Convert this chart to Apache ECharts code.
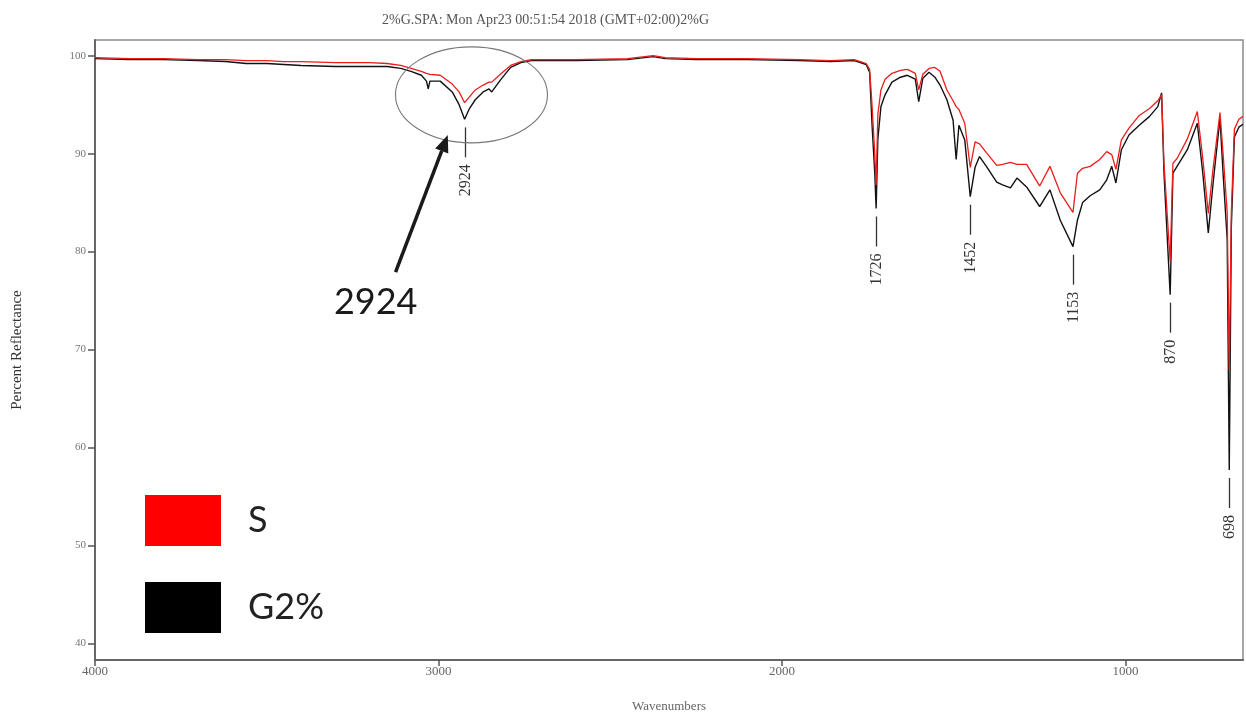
<!DOCTYPE html>
<html>
<head>
<meta charset="utf-8">
<script src="https://cdn.jsdelivr.net/npm/echarts@6/dist/echarts.min.js"></script>
<style>
  html, body { margin: 0; padding: 0; background: #ffffff; }
  #chart { width: 1246px; height: 715px; }
</style>
</head>
<body>
<div id="chart"></div>
<script>
// FTIR reflectance spectra: sample S and sample G2%
const wavenumbers = [
  4000, 3900, 3800, 3700, 3620, 3560, 3500, 3450, 3400, 3300, 3200, 3150, 3110, 3080, 3050, 3035,
  3030, 3025, 2995, 2960, 2940, 2924, 2910, 2893, 2870, 2853, 2845, 2820, 2790, 2760, 2730, 2600,
  2450, 2375, 2340, 2250, 2100, 1950, 1860, 1790, 1772, 1755, 1745, 1738, 1730, 1726, 1721, 1712,
  1700, 1680, 1655, 1635, 1612, 1602, 1590, 1572, 1555, 1540, 1520, 1502, 1493, 1485, 1468, 1452,
  1438, 1425, 1405, 1375, 1358, 1335, 1316, 1288, 1250, 1220, 1190, 1153, 1140, 1125, 1103, 1075,
  1055, 1040, 1028, 1012, 990, 960, 930, 906, 895, 888, 870, 862, 850, 820, 791, 775,
  759, 745, 725, 716, 704, 698, 692, 683, 670, 658
];

const valuesS = [
  99.8, 99.7, 99.7, 99.6, 99.6, 99.5, 99.5, 99.4, 99.4, 99.3, 99.3, 99.2, 99.0, 98.7, 98.4, 98.2,
  98.0, 98.1, 98.0, 97.1, 96.3, 95.2, 95.8, 96.5, 97.0, 97.3, 97.3, 98.1, 99.0, 99.4, 99.6, 99.6,
  99.7, 100.0, 99.8, 99.7, 99.7, 99.6, 99.5, 99.6, 99.4, 99.2, 98.6, 95.0, 90.0, 86.8, 94.0, 96.5,
  97.6, 98.2, 98.5, 98.6, 98.2, 96.5, 98.1, 98.7, 98.8, 98.4, 96.5, 95.4, 94.8, 94.5, 93.1, 88.6,
  91.2, 91.0, 90.1, 88.8, 88.9, 89.1, 88.9, 88.9, 86.7, 88.7, 86.0, 84.0, 88.0, 88.5, 88.7, 89.4,
  90.2, 89.9, 88.4, 91.4, 92.6, 93.9, 94.6, 95.4, 96.0, 89.0, 79.0, 89.0, 89.5, 91.5, 94.3, 89.5,
  83.9, 88.5, 94.2, 90.0, 84.0, 67.9, 84.0, 92.5, 93.5, 93.8
];

const valuesG2 = [
  99.7, 99.6, 99.6, 99.5, 99.4, 99.2, 99.2, 99.1, 99.0, 98.9, 98.9, 98.9, 98.7, 98.4, 98.0, 97.4,
  96.6, 97.4, 97.4, 96.3, 95.0, 93.5, 94.6, 95.5, 96.3, 96.6, 96.3, 97.5, 98.8, 99.3, 99.5, 99.5,
  99.6, 99.9, 99.7, 99.6, 99.6, 99.5, 99.4, 99.5, 99.3, 99.1, 98.3, 93.0, 88.0, 84.4, 91.5, 94.8,
  96.0, 97.3, 97.8, 98.0, 97.6, 95.3, 97.7, 98.3, 97.8, 97.0, 95.5, 93.4, 89.4, 92.9, 91.4, 85.6,
  88.6, 89.7, 88.7, 87.1, 86.8, 86.5, 87.5, 86.6, 84.6, 86.3, 83.2, 80.5, 83.2, 85.0, 85.7, 86.3,
  87.3, 88.7, 87.0, 90.4, 91.9, 92.9, 93.8, 94.8, 96.2, 88.0, 75.6, 88.0, 88.7, 90.4, 93.1, 88.0,
  81.9, 87.0, 93.6, 88.0, 81.2, 57.7, 82.5, 91.7, 92.7, 93.0
];

// labelled band positions (cm-1)
const peakBands = [2924, 1726, 1452, 1153, 870, 698];

// axis ticks
const xTicks = [1000, 2000, 3000, 4000];
const yTicks = [40, 50, 60, 70, 80, 90, 100];

// callout around the C-H stretch region
const calloutCenter = [2904, 96.0];
const calloutText = '2924';
const calloutTextAt = [3183, 74.8];
const arrowFrom = [3125, 77.9];
const arrowTo = [2973, 91.9];

const titleText = '2%G.SPA: Mon Apr23 00:51:54 2018 (GMT+02:00)2%G';

function pairs(vals) {
  return wavenumbers.map((w, i) => [w, vals[i]]);
}
function valueAt(vals, w) {
  return vals[wavenumbers.indexOf(w)];
}

const chart = echarts.init(document.getElementById('chart'), null, { renderer: 'canvas' });

const serif = '"Liberation Serif", "DejaVu Serif", serif';

const option = {
  animation: false,
  backgroundColor: '#ffffff',
  title: {
    text: titleText,
    left: 377,
    top: 8,
    textStyle: { fontFamily: serif, fontSize: 14, fontWeight: 'normal', color: '#555' }
  },
  grid: {
    left: 95, right: 3, top: 40, bottom: 55,
    outerBoundsMode: 'none',
    containLabel: false,
    show: true, borderColor: '#8a8a8a', borderWidth: 1.5, backgroundColor: 'transparent'
  },
  legend: {
    orient: 'vertical',
    left: 140,
    top: 490,
    itemWidth: 76,
    itemHeight: 51,
    itemGap: 36,
    icon: 'rect',
    data: [
      { name: 'S', itemStyle: { color: '#ff0000' } },
      { name: 'G2%', itemStyle: { color: '#000000' } }
    ],
    textStyle: { fontFamily: 'Lato, "Open Sans", sans-serif', fontSize: 36, color: '#222', padding: [0, 0, 0, 22] }
  },
  xAxis: {
    type: 'value',
    inverse: true,
    min: 658,
    max: 4000,
    name: 'Wavenumbers',
    nameLocation: 'middle',
    nameGap: 40,
    nameTextStyle: { fontFamily: serif, fontSize: 13, color: '#666' },
    axisLine: { lineStyle: { color: '#666', width: 2 } },
    axisTick: { show: true, length: 6, lineStyle: { color: '#555', width: 1.5 }, customValues: xTicks },
    axisLabel: { customValues: xTicks, fontFamily: serif, fontSize: 13, color: '#666', margin: 5,
                 formatter: v => String(v) },
    splitLine: { show: false }
  },
  yAxis: {
    type: 'value',
    min: 38.3,
    max: 101.6,
    name: 'Percent Reflectance',
    nameLocation: 'middle',
    nameGap: 70,
    nameTextStyle: { fontFamily: serif, fontSize: 15, color: '#333' },
    axisLine: { show: true, lineStyle: { color: '#666', width: 2 } },
    axisTick: { show: true, length: 7, lineStyle: { color: '#555', width: 1.5 }, customValues: yTicks },
    axisLabel: { customValues: yTicks, fontFamily: serif, fontSize: 11, color: '#777', margin: 9,
                 formatter: v => String(v) },
    splitLine: { show: false }
  },
  series: [
    {
      name: 'G2%',
      type: 'line',
      data: pairs(valuesG2),
      showSymbol: false,
      symbol: 'none',
      lineStyle: { color: '#111111', width: 1.4 },
      itemStyle: { color: '#000000' },
      z: 2
    },
    {
      name: 'S',
      type: 'line',
      data: pairs(valuesS),
      showSymbol: false,
      symbol: 'none',
      lineStyle: { color: '#ee1c1c', width: 1.3 },
      itemStyle: { color: '#ff0000' },
      z: 3
    },
    {
      // band markers: short dash under each band minimum with a rotated wavenumber
      type: 'custom',
      coordinateSystem: 'cartesian2d',
      silent: true,
      z: 4,
      data: peakBands.map(w => [w, valueAt(valuesG2, w)]),
      renderItem: function (params, api) {
        const p = api.coord([api.value(0), api.value(1)]);
        const x = Math.round(p[0]) + 0.5;
        return {
          type: 'group',
          children: [
            { type: 'line', shape: { x1: x, y1: p[1] + 8, x2: x, y2: p[1] + 38 },
              style: { stroke: '#333', lineWidth: 1.3 } },
            { type: 'text', x: x, y: p[1] + 45, rotation: Math.PI / 2,
              style: { text: String(api.value(0)), align: 'right', verticalAlign: 'middle',
                       font: '16px "Liberation Serif", serif', fill: '#333' } }
          ]
        };
      }
    },
    {
      // ellipse + arrow + large label for the 2924 band
      type: 'custom',
      coordinateSystem: 'cartesian2d',
      silent: true,
      z: 5,
      data: [calloutCenter],
      renderItem: function (params, api) {
        const c = api.coord(calloutCenter);
        const a = api.coord(arrowFrom);
        const b = api.coord(arrowTo);
        const t = api.coord(calloutTextAt);
        const dx = b[0] - a[0], dy = b[1] - a[1];
        const len = Math.sqrt(dx * dx + dy * dy);
        const ux = dx / len, uy = dy / len;
        const headLen = 17, headW = 7;
        const bx = b[0] - ux * headLen, by = b[1] - uy * headLen;
        return {
          type: 'group',
          children: [
            { type: 'ellipse', shape: { cx: c[0], cy: c[1], rx: 76, ry: 48 },
              style: { fill: 'none', stroke: '#777', lineWidth: 1.1 } },
            { type: 'line', shape: { x1: a[0], y1: a[1], x2: bx, y2: by },
              style: { stroke: '#1a1a1a', lineWidth: 3.5 } },
            { type: 'polygon', shape: { points: [
                [b[0], b[1]],
                [bx - uy * headW, by + ux * headW],
                [bx + uy * headW, by - ux * headW]
              ] }, style: { fill: '#1a1a1a' } },
            { type: 'text', x: t[0], y: t[1],
              style: { text: calloutText, align: 'center', verticalAlign: 'middle',
                       font: '36px Lato, "Open Sans", sans-serif', fill: '#1a1a1a' } }
          ]
        };
      }
    }
  ]
};

chart.setOption(option);
</script>
</body>
</html>
